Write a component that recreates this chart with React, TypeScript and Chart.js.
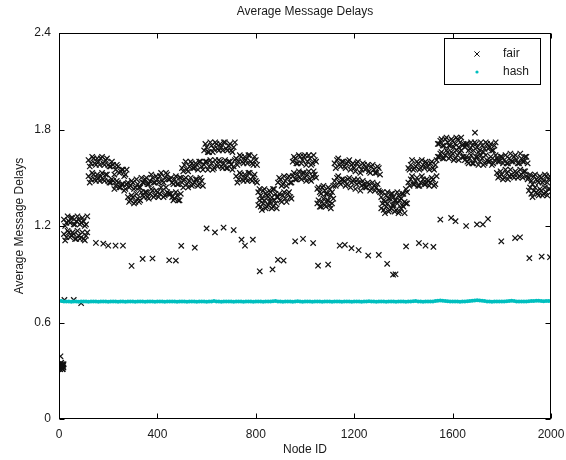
import { useEffect, useRef } from 'react';
import { Chart, registerables } from 'chart.js';

Chart.register(...registerables);

const chartTitle = 'Average Message Delays';
const xTitle = 'Node ID';
const yTitle = 'Average Message Delays';
const seriesNames = ['fair', 'hash'];

const xTicks = [0, 400, 800, 1200, 1600, 2000];
const yTicks = [0, 0.6, 1.2, 1.8, 2.4];
const yTickLabels = ['0', '0.6', '1.2', '1.8', '2.4'];

// fair: very first nodes
const startNodes = [1, 2, 3, 4, 5, 6, 7, 8, 9, 10, 11, 12, 13, 14, 15, 16, 17, 18, 19];
const startValues = [0.32, 0.33, 0.34, 0.31, 0.31, 0.39, 0.33, 0.34, 0.35, 0.32, 0.32, 0.33, 0.34, 0.31, 0.31, 0.34, 0.33, 0.32, 0.34];

// fair: the two dense bands (first sampling)
const bandNodes = [
  20, 30, 40, 50, 60, 70, 80, 90, 100, 110,
  120, 130, 140, 150, 160, 170, 180, 190, 200, 210,
  220, 230, 240, 250, 260, 270, 280, 290, 300, 310,
  320, 330, 340, 350, 360, 370, 380, 390, 400, 410,
  420, 430, 440, 450, 460, 470, 480, 490, 500, 510,
  520, 530, 540, 550, 560, 570, 580, 590, 600, 610,
  620, 630, 640, 650, 660, 670, 680, 690, 700, 710,
  720, 730, 740, 750, 760, 770, 780, 790, 800, 810,
  820, 830, 840, 850, 860, 870, 880, 890, 900, 910,
  920, 930, 940, 950, 960, 970, 980, 990, 1000, 1010,
  1020, 1030, 1040, 1050, 1060, 1070, 1080, 1090, 1100, 1110,
  1120, 1130, 1140, 1150, 1160, 1170, 1180, 1190, 1200, 1210,
  1220, 1230, 1240, 1250, 1260, 1270, 1280, 1290, 1300, 1310,
  1320, 1330, 1340, 1350, 1360, 1370, 1380, 1390, 1400, 1410,
  1420, 1430, 1440, 1450, 1460, 1470, 1480, 1490, 1500, 1510,
  1520, 1530, 1540, 1550, 1560, 1570, 1580, 1590, 1600, 1610,
  1620, 1630, 1640, 1650, 1660, 1670, 1680, 1690, 1700, 1710,
  1720, 1730, 1740, 1750, 1760, 1770, 1780, 1790, 1800, 1810,
  1820, 1830, 1840, 1850, 1860, 1870, 1880, 1890, 1900, 1910,
  1920, 1930, 1940, 1950, 1960, 1970, 1980, 1990,
];

const upperBand = [
  1.24, 1.22, 1.23, 1.25, 1.21, 1.23, 1.24, 1.22, 1.23, 1.21,
  1.61, 1.59, 1.62, 1.58, 1.60, 1.62, 1.59, 1.61, 1.58, 1.57,
  1.58, 1.55, 1.57, 1.54, 1.55, 1.52, 1.47, 1.45, 1.47, 1.44,
  1.46, 1.44, 1.47, 1.49, 1.46, 1.48, 1.50, 1.47, 1.49, 1.51,
  1.48, 1.50, 1.52, 1.49, 1.47, 1.49, 1.46, 1.50, 1.56, 1.58,
  1.55, 1.57, 1.59, 1.56, 1.58, 1.60, 1.57, 1.67, 1.69, 1.66,
  1.70, 1.68, 1.71, 1.67, 1.69, 1.72, 1.68, 1.70, 1.67, 1.69,
  1.62, 1.60, 1.63, 1.59, 1.61, 1.64, 1.60, 1.58, 1.61, 1.41,
  1.39, 1.42, 1.40, 1.38, 1.41, 1.43, 1.40, 1.47, 1.49, 1.46,
  1.48, 1.50, 1.47, 1.60, 1.62, 1.59, 1.63, 1.61, 1.64, 1.60,
  1.62, 1.59, 1.61, 1.43, 1.41, 1.44, 1.42, 1.40, 1.43, 1.41,
  1.59, 1.61, 1.58, 1.60, 1.57, 1.59, 1.61, 1.58, 1.56, 1.59,
  1.57, 1.55, 1.58, 1.56, 1.54, 1.57, 1.55, 1.53, 1.56, 1.38,
  1.36, 1.39, 1.37, 1.40, 1.38, 1.36, 1.39, 1.37, 1.40, 1.43,
  1.56, 1.58, 1.55, 1.57, 1.59, 1.56, 1.58, 1.60, 1.57, 1.59,
  1.56, 1.58, 1.71, 1.73, 1.70, 1.74, 1.72, 1.70, 1.73, 1.71,
  1.74, 1.72, 1.70, 1.69, 1.71, 1.68, 1.70, 1.72, 1.69, 1.67,
  1.70, 1.68, 1.71, 1.69, 1.67, 1.70, 1.62, 1.60, 1.63, 1.61,
  1.59, 1.62, 1.60, 1.63, 1.61, 1.59, 1.62, 1.60, 1.63, 1.50,
  1.48, 1.51, 1.49, 1.47, 1.50, 1.48, 1.51, 1.49,
];

const lowerBand = [
  1.15, 1.13, 1.16, 1.14, 1.15, 1.12, 1.14, 1.13, 1.12, 1.14,
  1.51, 1.49, 1.52, 1.48, 1.50, 1.51, 1.49, 1.52, 1.48, 1.47,
  1.48, 1.45, 1.47, 1.44, 1.46, 1.43, 1.38, 1.36, 1.38, 1.35,
  1.37, 1.36, 1.39, 1.41, 1.38, 1.40, 1.42, 1.39, 1.41, 1.40,
  1.42, 1.39, 1.41, 1.40, 1.38, 1.37, 1.39, 1.36, 1.47, 1.49,
  1.46, 1.48, 1.45, 1.47, 1.49, 1.46, 1.48, 1.58, 1.60, 1.57,
  1.59, 1.56, 1.58, 1.61, 1.57, 1.59, 1.56, 1.60, 1.58, 1.57,
  1.51, 1.49, 1.52, 1.48, 1.50, 1.53, 1.49, 1.51, 1.48, 1.33,
  1.32, 1.34, 1.31, 1.33, 1.35, 1.32, 1.34, 1.38, 1.36, 1.39,
  1.37, 1.40, 1.38, 1.51, 1.49, 1.52, 1.50, 1.53, 1.50, 1.52,
  1.49, 1.51, 1.52, 1.34, 1.32, 1.35, 1.33, 1.36, 1.33, 1.34,
  1.48, 1.50, 1.47, 1.49, 1.48, 1.46, 1.50, 1.47, 1.49, 1.46,
  1.47, 1.45, 1.46, 1.44, 1.46, 1.43, 1.45, 1.44, 1.42, 1.31,
  1.30, 1.32, 1.29, 1.31, 1.33, 1.30, 1.28, 1.31, 1.32, 1.34,
  1.47, 1.49, 1.46, 1.48, 1.45, 1.47, 1.49, 1.46, 1.48, 1.47,
  1.49, 1.46, 1.63, 1.65, 1.62, 1.64, 1.66, 1.63, 1.65, 1.62,
  1.64, 1.66, 1.63, 1.61, 1.60, 1.62, 1.59, 1.61, 1.63, 1.60,
  1.62, 1.59, 1.61, 1.60, 1.58, 1.61, 1.53, 1.51, 1.52, 1.50,
  1.53, 1.51, 1.52, 1.50, 1.53, 1.51, 1.52, 1.54, 1.51, 1.42,
  1.40, 1.42, 1.41, 1.39, 1.42, 1.40, 1.41, 1.43,
];

// fair: the two dense bands (second sampling, in between)
const bandNodesB = [
  25, 35, 45, 55, 65, 75, 85, 95, 105, 115,
  125, 135, 145, 155, 165, 175, 185, 195, 205, 215,
  225, 235, 245, 255, 265, 275, 285, 295, 305, 315,
  325, 335, 345, 355, 365, 375, 385, 395, 405, 415,
  425, 435, 445, 455, 465, 475, 485, 495, 505, 515,
  525, 535, 545, 555, 565, 575, 585, 595, 605, 615,
  625, 635, 645, 655, 665, 675, 685, 695, 705, 715,
  725, 735, 745, 755, 765, 775, 785, 795, 805, 815,
  825, 835, 845, 855, 865, 875, 885, 895, 905, 915,
  925, 935, 945, 955, 965, 975, 985, 995, 1005, 1015,
  1025, 1035, 1045, 1055, 1065, 1075, 1085, 1095, 1105, 1115,
  1125, 1135, 1145, 1155, 1165, 1175, 1185, 1195, 1205, 1215,
  1225, 1235, 1245, 1255, 1265, 1275, 1285, 1295, 1305, 1315,
  1325, 1335, 1345, 1355, 1365, 1375, 1385, 1395, 1405, 1415,
  1425, 1435, 1445, 1455, 1465, 1475, 1485, 1495, 1505, 1515,
  1525, 1535, 1545, 1555, 1565, 1575, 1585, 1595, 1605, 1615,
  1625, 1635, 1645, 1655, 1665, 1675, 1685, 1695, 1705, 1715,
  1725, 1735, 1745, 1755, 1765, 1775, 1785, 1795, 1805, 1815,
  1825, 1835, 1845, 1855, 1865, 1875, 1885, 1895, 1905, 1915,
  1925, 1935, 1945, 1955, 1965, 1975, 1985, 1995,
];

const upperBandB = [
  1.20, 1.26, 1.22, 1.25, 1.21, 1.26, 1.21, 1.25, 1.20, 1.26,
  1.57, 1.63, 1.59, 1.62, 1.58, 1.63, 1.58, 1.62, 1.57, 1.60,
  1.52, 1.58, 1.53, 1.55, 1.51, 1.55, 1.44, 1.48, 1.43, 1.49,
  1.44, 1.50, 1.47, 1.50, 1.46, 1.52, 1.47, 1.51, 1.47, 1.53,
  1.47, 1.53, 1.49, 1.50, 1.46, 1.51, 1.46, 1.50, 1.54, 1.60,
  1.54, 1.60, 1.56, 1.59, 1.55, 1.60, 1.55, 1.71, 1.66, 1.72,
  1.66, 1.72, 1.68, 1.71, 1.67, 1.72, 1.67, 1.71, 1.66, 1.72,
  1.58, 1.64, 1.60, 1.63, 1.59, 1.64, 1.59, 1.63, 1.58, 1.43,
  1.37, 1.43, 1.39, 1.42, 1.38, 1.43, 1.38, 1.50, 1.45, 1.51,
  1.45, 1.51, 1.47, 1.63, 1.59, 1.64, 1.59, 1.63, 1.58, 1.64,
  1.58, 1.64, 1.60, 1.44, 1.40, 1.45, 1.40, 1.44, 1.39, 1.45,
  1.56, 1.62, 1.57, 1.60, 1.56, 1.60, 1.55, 1.59, 1.54, 1.60,
  1.53, 1.59, 1.55, 1.58, 1.53, 1.58, 1.53, 1.57, 1.52, 1.41,
  1.35, 1.41, 1.37, 1.40, 1.36, 1.41, 1.36, 1.40, 1.35, 1.41,
  1.55, 1.61, 1.56, 1.60, 1.55, 1.61, 1.56, 1.59, 1.55, 1.60,
  1.55, 1.61, 1.71, 1.74, 1.70, 1.75, 1.70, 1.74, 1.69, 1.75,
  1.69, 1.75, 1.71, 1.71, 1.67, 1.72, 1.67, 1.71, 1.66, 1.72,
  1.66, 1.72, 1.68, 1.71, 1.67, 1.72, 1.60, 1.63, 1.59, 1.64,
  1.59, 1.65, 1.60, 1.64, 1.59, 1.65, 1.60, 1.63, 1.59, 1.52,
  1.46, 1.52, 1.48, 1.51, 1.47, 1.52, 1.47, 1.51,
];

const lowerBandB = [
  1.11, 1.17, 1.13, 1.16, 1.12, 1.17, 1.12, 1.16, 1.11, 1.16,
  1.47, 1.53, 1.49, 1.52, 1.48, 1.53, 1.48, 1.52, 1.47, 1.49,
  1.43, 1.48, 1.44, 1.46, 1.42, 1.46, 1.35, 1.39, 1.34, 1.40,
  1.35, 1.41, 1.38, 1.41, 1.37, 1.43, 1.38, 1.42, 1.38, 1.44,
  1.38, 1.44, 1.40, 1.40, 1.36, 1.41, 1.36, 1.40, 1.44, 1.50,
  1.44, 1.50, 1.46, 1.49, 1.45, 1.50, 1.45, 1.60, 1.55, 1.61,
  1.55, 1.61, 1.57, 1.60, 1.56, 1.61, 1.56, 1.60, 1.55, 1.61,
  1.47, 1.53, 1.49, 1.52, 1.48, 1.53, 1.48, 1.52, 1.47, 1.36,
  1.30, 1.36, 1.32, 1.35, 1.31, 1.36, 1.31, 1.40, 1.35, 1.41,
  1.35, 1.41, 1.37, 1.53, 1.49, 1.54, 1.49, 1.53, 1.48, 1.54,
  1.48, 1.54, 1.50, 1.36, 1.32, 1.37, 1.32, 1.36, 1.31, 1.37,
  1.45, 1.51, 1.46, 1.49, 1.45, 1.49, 1.44, 1.48, 1.43, 1.49,
  1.42, 1.48, 1.44, 1.47, 1.42, 1.47, 1.42, 1.46, 1.41, 1.34,
  1.28, 1.34, 1.30, 1.33, 1.29, 1.34, 1.29, 1.33, 1.28, 1.34,
  1.45, 1.51, 1.46, 1.50, 1.45, 1.51, 1.46, 1.49, 1.45, 1.50,
  1.45, 1.51, 1.63, 1.66, 1.62, 1.67, 1.62, 1.66, 1.61, 1.67,
  1.61, 1.67, 1.63, 1.63, 1.59, 1.64, 1.59, 1.63, 1.58, 1.64,
  1.58, 1.64, 1.60, 1.63, 1.59, 1.64, 1.50, 1.54, 1.49, 1.55,
  1.49, 1.55, 1.51, 1.54, 1.50, 1.55, 1.50, 1.54, 1.49, 1.44,
  1.38, 1.44, 1.40, 1.43, 1.39, 1.44, 1.39, 1.43,
];

// fair: scattered lower points
const outlierNodes = [
  22, 60, 90, 150, 180, 200, 230, 260, 295, 340, 380, 448, 475, 497, 552,
  600, 634, 669, 710, 742, 756, 788, 816, 868, 890, 913, 960, 992, 1033,
  1053, 1094, 1141, 1162, 1189, 1218, 1257, 1300, 1334, 1358, 1368, 1411,
  1463, 1490, 1522, 1550, 1594, 1612, 1655, 1699, 1723, 1744, 1798, 1854,
  1874, 1912, 1962, 1996, 1691,
];
const outlierValues = [
  0.74, 0.74, 0.72, 1.095, 1.09, 1.078, 1.078, 1.078, 0.952, 0.995, 0.998, 0.987, 0.985, 1.077, 1.065,
  1.185, 1.16, 1.19, 1.175, 1.115, 1.078, 1.115, 0.918, 0.93, 0.99, 0.985, 1.105, 1.12, 1.094,
  0.953, 0.96, 1.078, 1.083, 1.062, 1.05, 1.016, 1.02, 0.965, 0.897, 0.90, 1.073,
  1.094, 1.078, 1.07, 1.24, 1.25, 1.23, 1.20, 1.21, 1.21, 1.244, 1.105, 1.125,
  1.13, 1.0, 1.01, 1.006, 1.78,
];

const hashNodes = [
  0, 10, 20, 30, 40, 50, 60, 70, 80, 90,
  100, 110, 120, 130, 140, 150, 160, 170, 180, 190,
  200, 210, 220, 230, 240, 250, 260, 270, 280, 290,
  300, 310, 320, 330, 340, 350, 360, 370, 380, 390,
  400, 410, 420, 430, 440, 450, 460, 470, 480, 490,
  500, 510, 520, 530, 540, 550, 560, 570, 580, 590,
  600, 610, 620, 630, 640, 650, 660, 670, 680, 690,
  700, 710, 720, 730, 740, 750, 760, 770, 780, 790,
  800, 810, 820, 830, 840, 850, 860, 870, 880, 890,
  900, 910, 920, 930, 940, 950, 960, 970, 980, 990,
  1000, 1010, 1020, 1030, 1040, 1050, 1060, 1070, 1080, 1090,
  1100, 1110, 1120, 1130, 1140, 1150, 1160, 1170, 1180, 1190,
  1200, 1210, 1220, 1230, 1240, 1250, 1260, 1270, 1280, 1290,
  1300, 1310, 1320, 1330, 1340, 1350, 1360, 1370, 1380, 1390,
  1400, 1410, 1420, 1430, 1440, 1450, 1460, 1470, 1480, 1490,
  1500, 1510, 1520, 1530, 1540, 1550, 1560, 1570, 1580, 1590,
  1600, 1610, 1620, 1630, 1640, 1650, 1660, 1670, 1680, 1690,
  1700, 1710, 1720, 1730, 1740, 1750, 1760, 1770, 1780, 1790,
  1800, 1810, 1820, 1830, 1840, 1850, 1860, 1870, 1880, 1890,
  1900, 1910, 1920, 1930, 1940, 1950, 1960, 1970, 1980, 1990,
  2000,
];
const hashValues = [
  0.735, 0.733, 0.731, 0.730, 0.731, 0.729, 0.730, 0.731, 0.729, 0.730,
  0.731, 0.730, 0.729, 0.730, 0.731, 0.730, 0.729, 0.730, 0.731, 0.730,
  0.729, 0.730, 0.731, 0.730, 0.729, 0.731, 0.730, 0.729, 0.730, 0.731,
  0.730, 0.729, 0.730, 0.731, 0.730, 0.729, 0.730, 0.731, 0.730, 0.729,
  0.730, 0.731, 0.730, 0.729, 0.730, 0.731, 0.730, 0.730, 0.729, 0.730,
  0.731, 0.730, 0.729, 0.730, 0.731, 0.730, 0.729, 0.730, 0.731, 0.730,
  0.729, 0.730, 0.731, 0.733, 0.731, 0.730, 0.729, 0.730, 0.731, 0.730,
  0.730, 0.729, 0.730, 0.731, 0.730, 0.729, 0.730, 0.731, 0.730, 0.729,
  0.730, 0.731, 0.730, 0.729, 0.730, 0.731, 0.730, 0.732, 0.733, 0.731,
  0.730, 0.729, 0.730, 0.731, 0.730, 0.729, 0.731, 0.732, 0.730, 0.729,
  0.730, 0.731, 0.730, 0.729, 0.730, 0.731, 0.730, 0.729, 0.730, 0.731,
  0.730, 0.729, 0.730, 0.731, 0.730, 0.729, 0.730, 0.731, 0.730, 0.729,
  0.730, 0.731, 0.730, 0.729, 0.730, 0.731, 0.732, 0.731, 0.730, 0.729,
  0.730, 0.731, 0.730, 0.729, 0.730, 0.731, 0.730, 0.729, 0.730, 0.731,
  0.730, 0.729, 0.730, 0.731, 0.732, 0.733, 0.731, 0.730, 0.729, 0.730,
  0.731, 0.730, 0.731, 0.733, 0.735, 0.737, 0.736, 0.734, 0.732, 0.731,
  0.730, 0.731, 0.730, 0.729, 0.730, 0.731, 0.732, 0.733, 0.735, 0.737,
  0.738, 0.737, 0.735, 0.733, 0.731, 0.730, 0.729, 0.730, 0.731, 0.730,
  0.731, 0.730, 0.732, 0.734, 0.735, 0.733, 0.731, 0.730, 0.731, 0.730,
  0.731, 0.732, 0.733, 0.734, 0.736, 0.735, 0.733, 0.732, 0.733, 0.734,
  0.733,
];

const FONT = '"Liberation Sans", Arial, Helvetica, sans-serif';
const TEXT = '#1a1a1a';
const FAIR_COLOR = '#111111';
const HASH_COLOR = 'rgb(0,191,191)';

export default function App() {
  const ref = useRef<HTMLCanvasElement>(null);

  useEffect(() => {
    document.body.style.margin = '0';
    const canvas = ref.current;
    if (!canvas) return;

    const fairPoints = [
      ...startNodes.map((x, i) => ({ x, y: startValues[i] })),
      ...bandNodes.map((x, i) => ({ x, y: upperBand[i] })),
      ...bandNodes.map((x, i) => ({ x, y: lowerBand[i] })),
      ...bandNodesB.map((x, i) => ({ x, y: upperBandB[i] })),
      ...bandNodesB.map((x, i) => ({ x, y: lowerBandB[i] })),
      ...outlierNodes.map((x, i) => ({ x, y: outlierValues[i] })),
    ];
    const hashPoints = hashNodes.map((x, i) => ({ x, y: hashValues[i] }));

    const framePlugin = {
      id: 'matlabFrame',
      afterDraw(chart: any) {
        const { ctx, chartArea: a, scales } = chart;
        ctx.save();

        // title centred over the plot area
        ctx.fillStyle = TEXT;
        ctx.font = `12px ${FONT}`;
        ctx.textAlign = 'center';
        ctx.textBaseline = 'middle';
        ctx.fillText(chartTitle, (a.left + a.right) / 2, 12);

        ctx.strokeStyle = '#000';
        ctx.lineWidth = 1;
        const L = Math.round(a.left) + 0.5;
        const R = Math.round(a.right) - 0.5;
        const T = Math.round(a.top) + 0.5;
        const B = Math.round(a.bottom) - 0.5;
        ctx.strokeRect(L, T, R - L, B - T);
        ctx.beginPath();
        const tl = 5;
        for (const v of xTicks) {
          const px = Math.round(scales.x.getPixelForValue(v)) + 0.5;
          ctx.moveTo(px, B);
          ctx.lineTo(px, B - tl);
          ctx.moveTo(px, T);
          ctx.lineTo(px, T + tl);
        }
        for (const v of yTicks) {
          const py = Math.round(scales.y.getPixelForValue(v)) + 0.5;
          ctx.moveTo(L, py);
          ctx.lineTo(L + tl, py);
          ctx.moveTo(R, py);
          ctx.lineTo(R - tl, py);
        }
        ctx.stroke();

        // legend box
        const w = 97;
        const h = 47;
        const lx = Math.round(a.right) - 10 - w;
        const ly = Math.round(a.top) + 5;
        ctx.fillStyle = '#fff';
        ctx.fillRect(lx, ly, w, h);
        ctx.strokeRect(lx + 0.5, ly + 0.5, w - 1, h - 1);

        const mx = lx + 33;
        const y1 = ly + 16;
        const y2 = ly + 34;
        ctx.strokeStyle = FAIR_COLOR;
        ctx.beginPath();
        ctx.moveTo(mx - 2.6, y1 - 2.6);
        ctx.lineTo(mx + 2.6, y1 + 2.6);
        ctx.moveTo(mx + 2.6, y1 - 2.6);
        ctx.lineTo(mx - 2.6, y1 + 2.6);
        ctx.stroke();
        ctx.fillStyle = HASH_COLOR;
        ctx.beginPath();
        ctx.arc(mx, y2, 1.6, 0, Math.PI * 2);
        ctx.fill();

        ctx.fillStyle = TEXT;
        ctx.font = `12px ${FONT}`;
        ctx.textAlign = 'left';
        ctx.textBaseline = 'middle';
        ctx.fillText(seriesNames[0], lx + 59, y1);
        ctx.fillText(seriesNames[1], lx + 59, y2);
        ctx.restore();
      },
    };

    const chart = new Chart(canvas, {
      type: 'scatter',
      data: {
        datasets: [
          {
            label: seriesNames[0],
            data: fairPoints,
            pointStyle: 'crossRot',
            pointRadius: 3.8,
            pointBorderWidth: 1.2,
            borderColor: FAIR_COLOR,
            backgroundColor: FAIR_COLOR,
            showLine: false,
            order: 2,
          },
          {
            label: seriesNames[1],
            data: hashPoints,
            pointStyle: 'circle',
            pointRadius: 2,
            pointBorderWidth: 0,
            borderColor: HASH_COLOR,
            backgroundColor: HASH_COLOR,
            showLine: false,
            order: 1,
          },
        ],
      },
      options: {
        animation: false,
        responsive: false,
        maintainAspectRatio: false,
        events: [],
        layout: { padding: { left: 0, right: 15, top: 33, bottom: 0 } },
        plugins: {
          legend: { display: false },
          tooltip: { enabled: false },
          title: { display: false },
        },
        scales: {
          x: {
            type: 'linear',
            min: 0,
            max: 2000,
            afterBuildTicks: (s: any) => {
              s.ticks = xTicks.map((v) => ({ value: v }));
            },
            afterFit: (s: any) => {
              s.height = 41;
              s.paddingLeft = 0;
              s.paddingRight = 0;
            },
            grid: { display: false, drawTicks: false },
            border: { display: false },
            ticks: {
              color: TEXT,
              font: { family: FONT, size: 12 },
              padding: 8,
              maxRotation: 0,
              autoSkip: false,
              callback: (v: any) => String(v),
            },
            title: {
              display: true,
              text: xTitle,
              color: TEXT,
              font: { family: FONT, size: 12 },
              padding: { top: 0, bottom: 3 },
            },
          },
          y: {
            type: 'linear',
            min: 0,
            max: 2.4,
            afterBuildTicks: (s: any) => {
              s.ticks = yTicks.map((v) => ({ value: v }));
            },
            afterFit: (s: any) => {
              s.width = 59;
            },
            grid: { display: false, drawTicks: false },
            border: { display: false },
            ticks: {
              color: TEXT,
              font: { family: FONT, size: 12 },
              padding: 8,
              autoSkip: false,
              callback: (v: any) => {
                const i = yTicks.findIndex((t) => Math.abs(t - v) < 1e-9);
                return i >= 0 ? yTickLabels[i] : '';
              },
            },
            title: {
              display: true,
              text: yTitle,
              color: TEXT,
              font: { family: FONT, size: 12 },
              padding: { top: 12, bottom: 0 },
            },
          },
        },
      },
      plugins: [framePlugin],
    });

    return () => chart.destroy();
  }, []);

  return (
    <div style={{ position: 'absolute', left: 0, top: 0, width: 566, height: 460 }}>
      <canvas ref={ref} width={566} height={460} style={{ width: 566, height: 460, display: 'block' }} />
    </div>
  );
}
